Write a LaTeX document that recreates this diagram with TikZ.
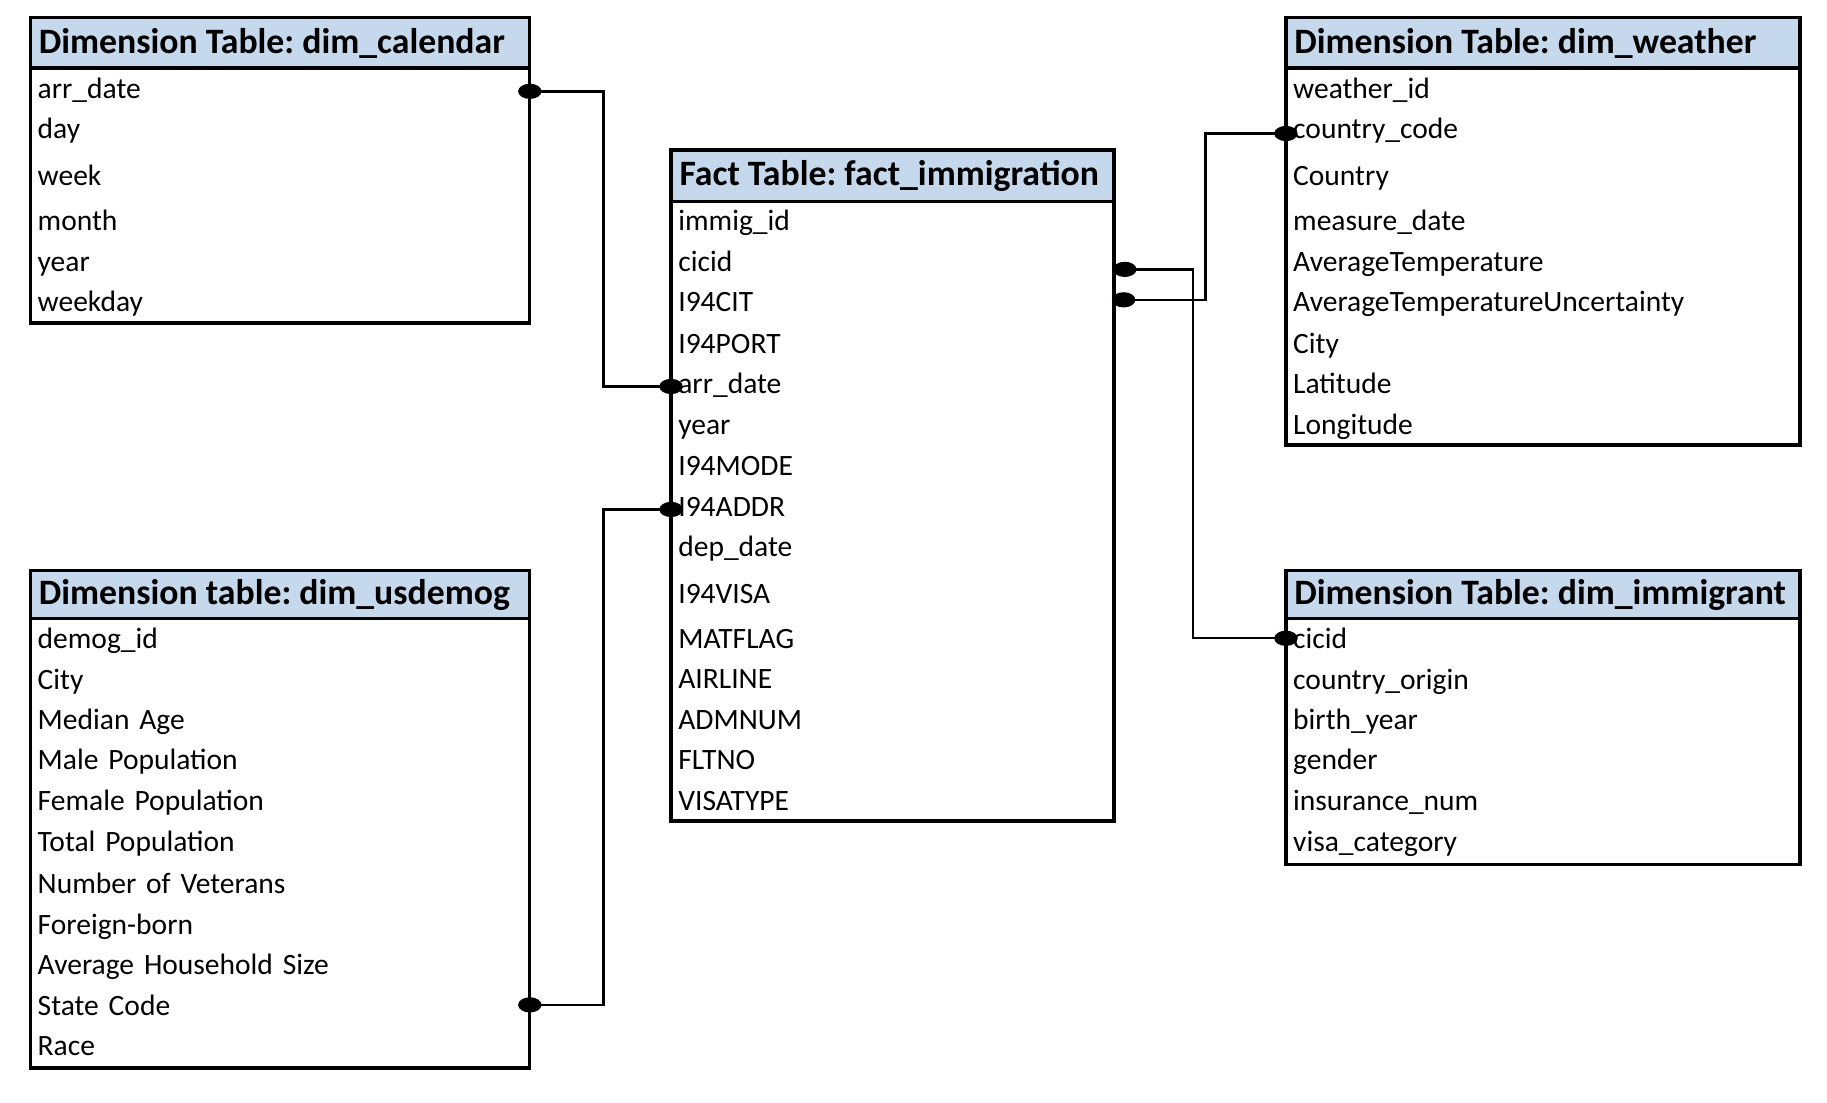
\documentclass[tikz,border=0pt]{standalone}
\usepackage{fontspec}
\setmainfont{Carlito}
\usetikzlibrary{positioning}
\definecolor{headblue}{RGB}{197,216,236}
\frenchspacing
\begin{document}
\begin{tikzpicture}[x=1pt,y=-1pt,
  tblhead/.style={anchor=west,inner xsep=7pt,inner ysep=0pt,font=\fontsize{30.5}{36}\selectfont\bfseries},
  tblrow/.style={anchor=west,align=left,inner xsep=6pt,inner ysep=0pt,text height=18pt,text depth=6pt,font=\fontsize{25.2}{30}\selectfont},
  tblframe/.style={line width=3pt},
  link/.style={line width=2pt}]
\useasboundingbox (0,0) rectangle (1560,941);
\fill[headblue] (26,15) rectangle (452,58);
\node[tblhead] (calHead) at (26,37) {Dimension Table: dim\_calendar};
\draw[tblframe] (26,15) rectangle (452,276);
\draw[tblframe] (26,58) -- (452,58);
\node[tblrow,text width=414pt] (cal1) at (26,78) {arr\_date};
\node[tblrow,text width=414pt] (cal2) at (26,112) {day};
\node[tblrow,text width=414pt] (cal3) at (26,152) {week};
\node[tblrow,text width=414pt] (cal4) at (26,191) {month};
\node[tblrow,text width=414pt] (cal5) at (26,226) {year};
\node[tblrow,text width=414pt] (cal6) at (26,260) {weekday};
\fill[headblue] (573,128) rectangle (951,172);
\node[tblhead] (factHead) at (573,150) {Fact Table: fact\_immigration};
\draw[tblframe] (573,128) rectangle (951,701);
\draw[tblframe] (573,172) -- (951,172);
\node[tblrow,text width=366pt] (fact1) at (573,191) {immig\_id};
\node[tblrow,text width=366pt] (fact2) at (573,226) {cicid};
\node[tblrow,text width=366pt] (fact3) at (573,260) {I94CIT};
\node[tblrow,text width=366pt] (fact4) at (573,296) {I94PORT};
\node[tblrow,text width=366pt] (fact5) at (573,330) {arr\_date};
\node[tblrow,text width=366pt] (fact6) at (573,365) {year};
\node[tblrow,text width=366pt] (fact7) at (573,400) {I94MODE};
\node[tblrow,text width=366pt] (fact8) at (573,435) {I94ADDR};
\node[tblrow,text width=366pt] (fact9) at (573,469) {dep\_date};
\node[tblrow,text width=366pt] (fact10) at (573,509) {I94VISA};
\node[tblrow,text width=366pt] (fact11) at (573,548) {MATFLAG};
\node[tblrow,text width=366pt] (fact12) at (573,582) {AIRLINE};
\node[tblrow,text width=366pt] (fact13) at (573,617) {ADMNUM};
\node[tblrow,text width=366pt] (fact14) at (573,651) {FLTNO};
\node[tblrow,text width=366pt] (fact15) at (573,686) {VISATYPE};
\fill[headblue] (1098,15) rectangle (1537,58);
\node[tblhead] (wthHead) at (1098,37) {Dimension Table: dim\_weather};
\draw[tblframe] (1098,15) rectangle (1537,380);
\draw[tblframe] (1098,58) -- (1537,58);
\node[tblrow,text width=427pt] (wth1) at (1098,78) {weather\_id};
\node[tblrow,text width=427pt] (wth2) at (1098,112) {country\_code};
\node[tblrow,text width=427pt] (wth3) at (1098,152) {Country};
\node[tblrow,text width=427pt] (wth4) at (1098,191) {measure\_date};
\node[tblrow,text width=427pt] (wth5) at (1098,226) {AverageTemperature};
\node[tblrow,text width=427pt] (wth6) at (1098,260) {AverageTemperatureUncertainty};
\node[tblrow,text width=427pt] (wth7) at (1098,296) {City};
\node[tblrow,text width=427pt] (wth8) at (1098,330) {Latitude};
\node[tblrow,text width=427pt] (wth9) at (1098,365) {Longitude};
\fill[headblue] (26,487) rectangle (452,528);
\node[tblhead] (demHead) at (26,508) {Dimension table: dim\_usdemog};
\draw[tblframe] (26,487) rectangle (452,912);
\draw[tblframe] (26,528) -- (452,528);
\node[tblrow,text width=414pt] (dem1) at (26,548) {demog\_id};
\node[tblrow,text width=414pt] (dem2) at (26,583) {City};
\node[tblrow,text width=414pt] (dem3) at (26,617) {Median Age};
\node[tblrow,text width=414pt] (dem4) at (26,651) {Male Population};
\node[tblrow,text width=414pt] (dem5) at (26,686) {Female Population};
\node[tblrow,text width=414pt] (dem6) at (26,721) {Total Population};
\node[tblrow,text width=414pt] (dem7) at (26,757) {Number of Veterans};
\node[tblrow,text width=414pt] (dem8) at (26,792) {Foreign-born};
\node[tblrow,text width=414pt] (dem9) at (26,826) {Average Household Size};
\node[tblrow,text width=414pt] (dem10) at (26,861) {State Code};
\node[tblrow,text width=414pt] (dem11) at (26,895) {Race};
\fill[headblue] (1098,487) rectangle (1537,528);
\node[tblhead] (immHead) at (1098,508) {Dimension Table: dim\_immigrant};
\draw[tblframe] (1098,487) rectangle (1537,738);
\draw[tblframe] (1098,528) -- (1537,528);
\node[tblrow,text width=427pt] (imm1) at (1098,548) {cicid};
\node[tblrow,text width=427pt] (imm2) at (1098,583) {country\_origin};
\node[tblrow,text width=427pt] (imm3) at (1098,617) {birth\_year};
\node[tblrow,text width=427pt] (imm4) at (1098,651) {gender};
\node[tblrow,text width=427pt] (imm5) at (1098,686) {insurance\_num};
\node[tblrow,text width=427pt] (imm6) at (1098,721) {visa\_category};
\draw[link] (cal1.east) -- ++(63,0) |- (fact5.west);
\draw[link] ([yshift=3pt]dem10.east) -- ++(63,0) |- (fact8.west);
\draw[link] ([yshift=-4pt]fact2.east) -- ++(67,0) |- ([yshift=3pt]imm1.west);
\draw[link] ([yshift=4pt]fact3.east) -- ++(78,0) |- ([yshift=-2pt]wth2.west);
\fill (cal1.east) ellipse (10pt and 6.5pt);
\fill (fact5.west) ellipse (10pt and 6.5pt);
\fill ([yshift=3pt]dem10.east) ellipse (10pt and 6.5pt);
\fill (fact8.west) ellipse (10pt and 6.5pt);
\fill ([xshift=9pt,yshift=-4pt]fact2.east) ellipse (10pt and 6.5pt);
\fill ([yshift=3pt]imm1.west) ellipse (10pt and 6.5pt);
\fill ([xshift=8pt,yshift=4pt]fact3.east) ellipse (10pt and 6.5pt);
\fill ([yshift=-2pt]wth2.west) ellipse (10pt and 6.5pt);
\end{tikzpicture}
\end{document}
